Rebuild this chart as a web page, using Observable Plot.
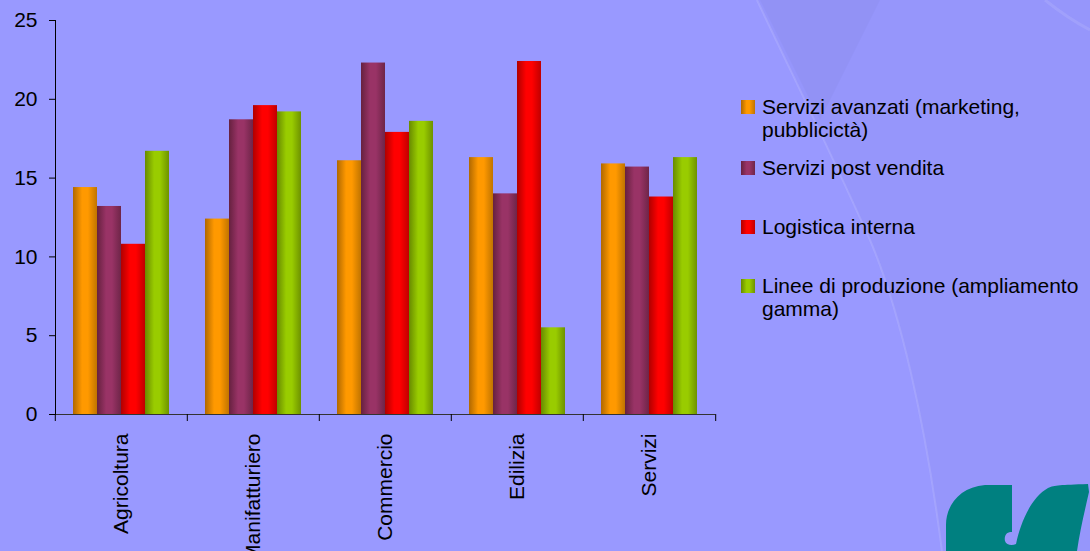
<!DOCTYPE html>
<html>
<head>
<meta charset="utf-8">
<script src="https://cdn.jsdelivr.net/npm/d3@7"></script>
<script src="https://cdn.jsdelivr.net/npm/@observablehq/plot@0.6"></script>
<style>
  html, body { margin: 0; padding: 0; }
  body { width: 1090px; height: 551px; overflow: hidden; position: relative; background: #9999FF; font-family: "Liberation Sans", Arial, sans-serif; }
  #bg { position: absolute; left: 0; top: 0; }
  #chart { position: absolute; left: 0; top: 0; }
  .item { position: absolute; left: 741px; width: 349px; font-size: 21px; line-height: 23px; color: #000; }
  .sw { position: absolute; left: 0; width: 14px; height: 14px; }
  .lbl { position: absolute; left: 21px; width: 327px; }
</style>
</head>
<body>
<svg id="bg" width="1090" height="551">
  <path d="M757,0 C790,70 830,150 870,240 C900,310 925,420 942,551 L1090,551 L1090,0 Z" fill="rgba(110,110,190,0.06)"/>
  <path d="M760,0 C780,40 800,80 820,120 L880,0 Z" fill="rgba(100,100,170,0.07)"/>
  <path d="M757,0 C790,70 830,150 870,240 C900,310 925,420 942,551" fill="none" stroke="rgba(220,220,255,0.18)" stroke-width="2"/>
  <path d="M1045,0 C1060,12 1075,22 1090,30" fill="none" stroke="rgba(220,220,255,0.15)" stroke-width="3"/>
  <path d="M946,551 L946,525 C946,505 960,487 985,485 L1012,485 L1012,532 C1006,531 1004,537 1005,541 C1006,545 1012,546 1016,544 C1020,525 1030,498 1048,488 C1055,485 1060,485 1088,484 L1089,492 C1085,510 1080,530 1077,551 Z" fill="#008080"/>
</svg>
<div id="chart"></div>
<div id="legend"></div>
<script>
const categories = ["Agricoltura", "Manifatturiero", "Commercio", "Edilizia", "Servizi"];
const series = [
  "Servizi avanzati (marketing, pubblicictà)",
  "Servizi post vendita",
  "Logistica interna",
  "Linee di produzione (ampliamento gamma)"
];
const serviziAvanzati = [14.4, 12.4, 16.1, 16.3, 15.9];
const serviziPostVendita = [13.2, 18.7, 22.3, 14.0, 15.7];
const logisticaInterna = [10.8, 19.6, 17.9, 22.4, 13.8];
const lineeProduzione = [16.7, 19.2, 18.6, 5.5, 16.3];
const yTicks = [0, 5, 10, 15, 20, 25];

// colours: [left edge, centre, right edge]
const seriesColors = [
  ["#b06800", "#ff9900", "#c07400"],
  ["#66213f", "#993366", "#6e2548"],
  ["#b00000", "#ff0000", "#c00000"],
  ["#688a00", "#99cc00", "#6e9200"]
];

const valuesBySeries = [serviziAvanzati, serviziPostVendita, logisticaInterna, lineeProduzione];
const data = [];
categories.forEach((c, i) => {
  series.forEach((s, j) => data.push({cat: c, series: s, value: valuesBySeries[j][i]}));
});

const W = 720, H = 551, mL = 54, mR = 4, mT = 20, mB = 137;
const bw = (W - mL - mR) / categories.length;
const fontFam = '"Liberation Sans", Arial, sans-serif';

const chart = Plot.plot({
  width: W, height: H,
  marginLeft: mL, marginRight: mR, marginTop: mT, marginBottom: mB,
  style: {background: "transparent", fontFamily: fontFam, fontSize: "21px", color: "#000", overflow: "visible"},
  fx: {domain: categories, padding: 0, label: null},
  x: {domain: series, paddingInner: 0, paddingOuter: 0.75, axis: null},
  y: {domain: [0, 25], axis: null},
  color: {domain: series, range: series.map((s, j) => `url(#grad${j})`)},
  marks: [
    Plot.barY(data, {fx: "cat", x: "series", y: "value", fill: "series"}),
    Plot.ruleY([0], {stroke: "#333"}),
    Plot.frame({anchor: "left", facetAnchor: "left", stroke: "#000"}),
    Plot.axisY({ticks: yTicks, tickSize: 6, tickPadding: 12, label: null, fontSize: 21}),
    Plot.axisFx({anchor: "bottom", tickSize: 0, tickRotate: -90, tickPadding: 19, textAnchor: "end", label: null, fontSize: 21}),
    Plot.axisFx({anchor: "bottom", tickSize: 7, tickFormat: () => "", dx: -bw / 2, label: null}),
    Plot.axisFx({anchor: "bottom", ticks: [categories[categories.length - 1]], tickSize: 7, tickFormat: () => "", dx: bw / 2, label: null})
  ]
});

// gradient definitions for the bars
const NS = "http://www.w3.org/2000/svg";
const defs = document.createElementNS(NS, "defs");
seriesColors.forEach((c, j) => {
  const g = document.createElementNS(NS, "linearGradient");
  g.setAttribute("id", `grad${j}`);
  g.setAttribute("x1", "0"); g.setAttribute("x2", "1"); g.setAttribute("y1", "0"); g.setAttribute("y2", "0");
  [[0, c[0]], [0.38, c[1]], [0.62, c[1]], [1, c[2]]].forEach(([o, col]) => {
    const st = document.createElementNS(NS, "stop");
    st.setAttribute("offset", o);
    st.setAttribute("stop-color", col);
    g.appendChild(st);
  });
  defs.appendChild(g);
});
chart.insertBefore(defs, chart.firstChild);
document.getElementById("chart").appendChild(chart);

// legend
const legendTops = [100, 161, 220, 279];
const legend = document.getElementById("legend");
series.forEach((s, j) => {
  const item = document.createElement("div");
  item.className = "item";
  item.style.top = legendTops[j] + "px";
  const sw = document.createElement("div");
  sw.className = "sw";
  sw.style.background = `linear-gradient(to right, ${seriesColors[j][0]}, ${seriesColors[j][1]} 40%, ${seriesColors[j][1]} 60%, ${seriesColors[j][2]})`;
  const lb = document.createElement("div");
  lb.className = "lbl";
  lb.style.top = "-5px";
  lb.textContent = s;
  item.appendChild(sw);
  item.appendChild(lb);
  legend.appendChild(item);
});
</script>
</body>
</html>
